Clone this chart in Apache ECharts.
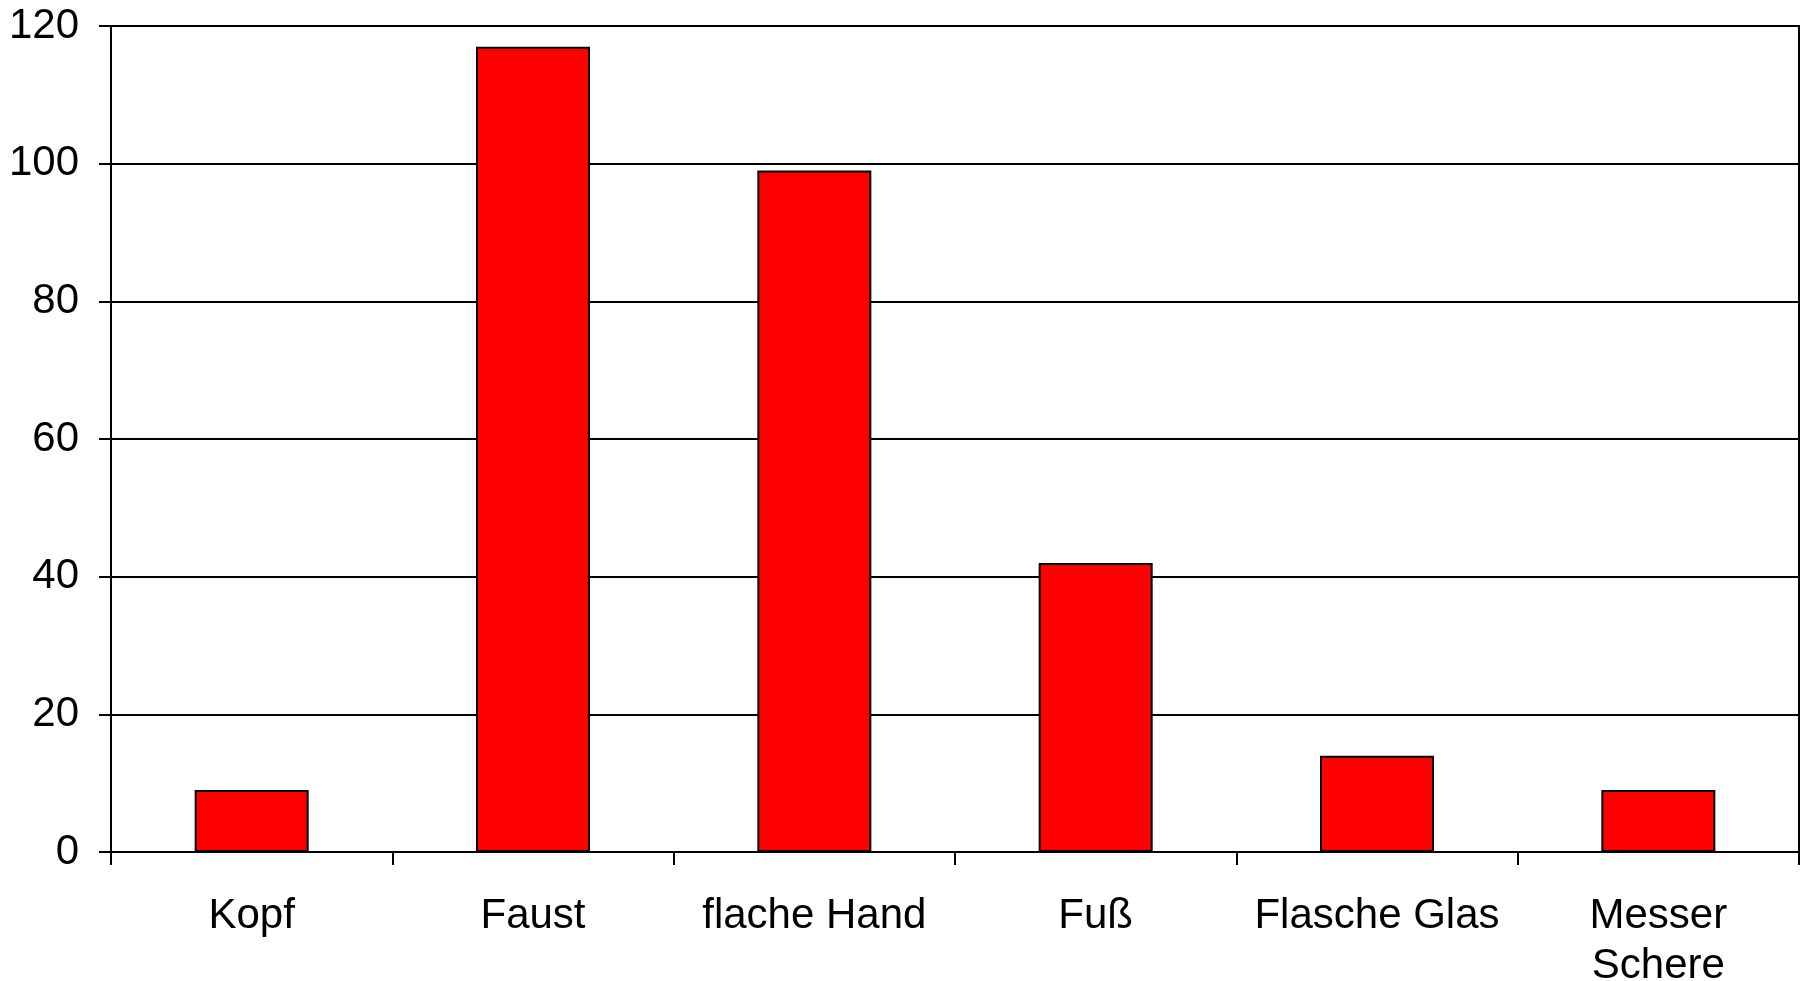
<!DOCTYPE html>
<html>
<head>
<meta charset="utf-8">
<script src="https://cdn.jsdelivr.net/npm/echarts@6/dist/echarts.min.js"></script>
<style>
    html, body { margin: 0; padding: 0; background: #fff; }
    .bar { width: 1808px; height: 981px; }
</style>
</head>
<body>
<div class="bar"></div>
<script>
// Kategorien und Werte
const categories = ['Kopf', 'Faust', 'flache Hand', 'Fuß', 'Flasche Glas', 'Messer\nSchere']
const values = [9, 117, 99, 42, 14, 9]
const yTicks = [0, 20, 40, 60, 80, 100, 120]

;(function () {
    const myChart = echarts.init(document.querySelector('.bar'))
    const font = '"Liberation Sans", Arial, sans-serif'
    const option = {
        animation: false,
        grid: {
            left: 111,
            right: 9,
            top: 26,
            bottom: 129,
            outerBoundsMode: 'none', // Raster nicht wegen der Beschriftung verkleinern
            show: true,
            borderColor: '#000',
            borderWidth: 2
        },
        xAxis: {
            type: 'category',
            data: categories,
            axisLine: { lineStyle: { color: '#000', width: 2 } },
            axisTick: { show: true, length: 13, lineStyle: { color: '#000', width: 2 } },
            axisLabel: {
                interval: 0, // alle Beschriftungen zeigen
                color: '#000',
                fontFamily: font,
                fontSize: 42,
                lineHeight: 50,
                margin: 39
            }
        },
        yAxis: {
            type: 'value',
            min: yTicks[0],
            max: yTicks[yTicks.length - 1],
            interval: 20,
            axisLine: { show: true, lineStyle: { color: '#000', width: 2 } },
            axisTick: { show: true, length: 12, lineStyle: { color: '#000', width: 2 } },
            splitLine: { lineStyle: { color: '#000', width: 2 } },
            axisLabel: {
                color: '#000',
                fontFamily: font,
                fontSize: 42,
                margin: 32
            }
        },
        series: [
            {
                type: 'bar',
                data: values,
                barWidth: 114,
                itemStyle: {
                    color: '#ff0000',
                    borderColor: '#000',
                    borderWidth: 2
                }
            }
        ]
    }
    myChart.setOption(option)
})()
</script>
</body>
</html>
